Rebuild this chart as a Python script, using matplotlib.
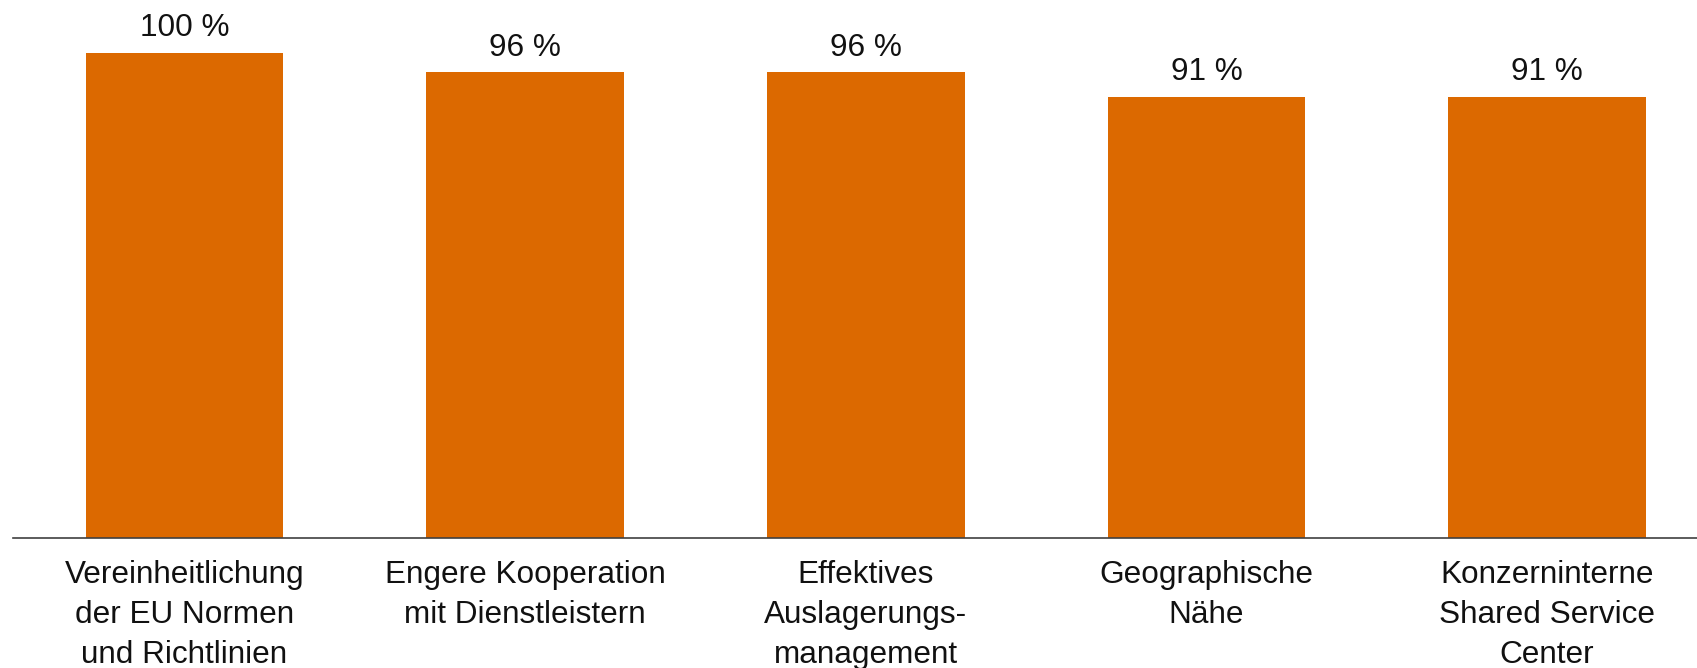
"""Bar chart: agreement shares for outsourcing improvement factors."""

import matplotlib

matplotlib.use("Agg")
import matplotlib.pyplot as plt

CATEGORIES = [
    "Vereinheitlichung\nder EU Normen\nund Richtlinien",
    "Engere Kooperation\nmit Dienstleistern",
    "Effektives\nAuslagerungs-\nmanagement",
    "Geographische\nNähe",
    "Konzerninterne\nShared Service\nCenter",
]
VALUES = [100, 96, 96, 91, 91]
VALUE_LABELS = ["100 %", "96 %", "96 %", "91 %", "91 %"]

BAR_COLOR = "#DC6900"
TEXT_COLOR = "#111111"

plt.rcParams.update({"font.family": ["Liberation Sans", "DejaVu Sans"]})
fig = plt.figure(figsize=(16.97, 6.68), dpi=100)
ax = fig.add_axes([13 / 1697, 130 / 668, 1 - 13 / 1697, 538 / 668])

x = range(len(CATEGORIES))
bars = ax.bar(x, VALUES, width=0.58, color=BAR_COLOR)
for bar, label in zip(bars, VALUE_LABELS):
    ax.annotate(label, (bar.get_x() + bar.get_width() / 2, bar.get_height()),
                xytext=(0, 7), textcoords="offset points",
                ha="center", va="bottom", fontsize=22.7, color=TEXT_COLOR)

ax.set_xlim(-0.503, 4.44)
ax.set_ylim(0, 110.9)
ax.set_xticks(list(x))
ax.set_xticklabels(CATEGORIES, fontsize=22.7, color=TEXT_COLOR, linespacing=1.44)
ax.tick_params(axis="x", length=0, pad=16)
ax.set_yticks([])
for side in ("top", "right", "left"):
    ax.spines[side].set_visible(False)
ax.spines["bottom"].set_color("#404040")
ax.spines["bottom"].set_linewidth(1.2)

fig.savefig("out.png", dpi=100)
